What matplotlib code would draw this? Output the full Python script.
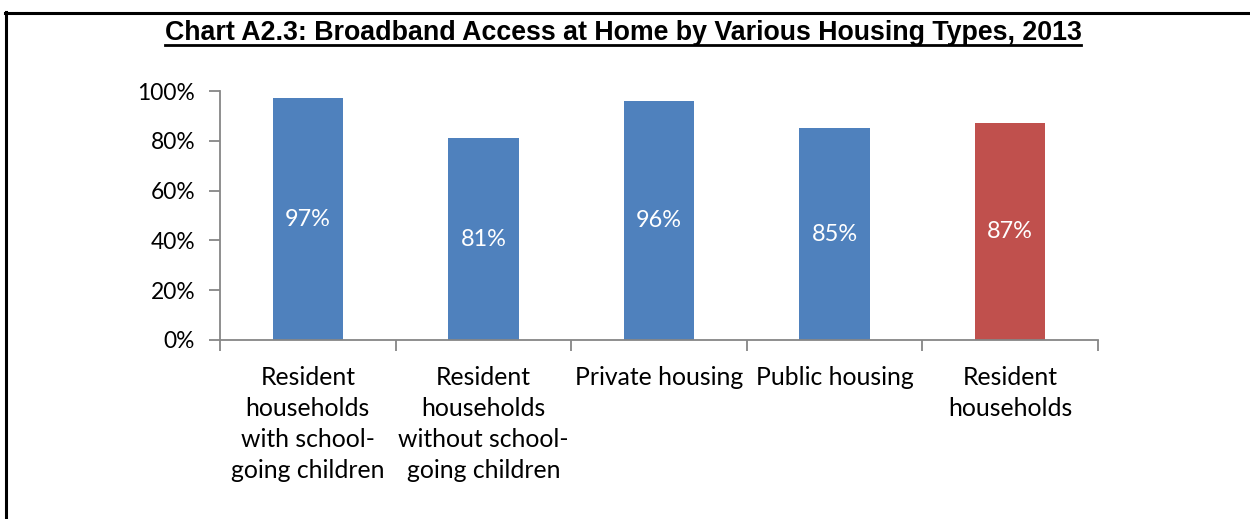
import matplotlib
matplotlib.use("Agg")
import matplotlib.pyplot as plt
from matplotlib.lines import Line2D
from matplotlib.ticker import FixedLocator, PercentFormatter

categories = [
    "Resident\nhouseholds\nwith school-\ngoing children",
    "Resident\nhouseholds\nwithout school-\ngoing children",
    "Private housing",
    "Public housing",
    "Resident\nhouseholds",
]
values = [97, 81, 96, 85, 87]
bar_colors = ["#4F81BD", "#4F81BD", "#4F81BD", "#4F81BD", "#C0504D"]
y_ticks = [0, 20, 40, 60, 80, 100]
title = "Chart A2.3: Broadband Access at Home by Various Housing Types, 2013"

body_font = ["Lato", "DejaVu Sans"]
axis_grey = "#868686"
W, H = 1250, 519

fig = plt.figure(figsize=(W / 100, H / 100), dpi=100)
fig.patch.set_facecolor("white")

# outer frame (top and left edges)
fig.add_artist(Line2D([5 / W, 1.0], [1 - 12.5 / H] * 2, color="black", lw=2.2,
                      transform=fig.transFigure))
fig.add_artist(Line2D([6 / W] * 2, [0.0, 1 - 12 / H], color="black", lw=2.2,
                      transform=fig.transFigure))

# underlined title, sized to span the intended width
t = fig.text(623 / W, 1 - 40 / H, title, ha="center", va="baseline",
             fontsize=17, fontweight="bold", family="Liberation Sans")
renderer = fig.canvas.get_renderer()
w0 = t.get_window_extent(renderer=renderer).width
t.set_fontsize(17 * 920 / w0)
bb = t.get_window_extent(renderer=renderer)
uy = (H - 45) / H
fig.add_artist(Line2D([bb.x0 / W, bb.x1 / W], [uy, uy], color="black", lw=2.0,
                      transform=fig.transFigure))

ax = fig.add_axes([220 / W, 1 - 340 / H, 878 / W, 249 / H])
x = list(range(len(values)))
bars = ax.bar(x, values, width=0.4, color=bar_colors, zorder=2)

for b, v in zip(bars, values):
    ax.text(b.get_x() + b.get_width() / 2, v / 2, f"{v}%", ha="center", va="center",
            color="white", fontsize=16.9, family=body_font)

ax.set_xlim(-0.5, len(values) - 0.5)
ax.set_ylim(0, 100)
ax.set_yticks(y_ticks)
ax.yaxis.set_major_formatter(PercentFormatter(decimals=0))

ax.xaxis.set_major_locator(FixedLocator([i - 0.5 for i in range(len(values) + 1)]))
ax.xaxis.set_minor_locator(FixedLocator(x))
ax.set_xticklabels([])
ax.set_xticklabels(categories, minor=True)

for s in ("top", "right"):
    ax.spines[s].set_visible(False)
for s in ("left", "bottom"):
    ax.spines[s].set_color(axis_grey)
    ax.spines[s].set_linewidth(1.3)

ax.tick_params(axis="y", which="major", length=8, width=1.3, color=axis_grey, pad=10,
               labelsize=16.4)
ax.tick_params(axis="x", which="major", length=8, width=1.3, color=axis_grey)
ax.tick_params(axis="x", which="minor", length=0, pad=18.5, labelsize=17.8)

for lab in ax.get_yticklabels():
    lab.set_family(body_font)
for lab in ax.get_xticklabels(minor=True):
    lab.set_family(body_font)
    lab.set_linespacing(1.42)
    lab.set_ha("center")
    lab.set_va("top")

fig.savefig("out.png", dpi=100, facecolor="white")
